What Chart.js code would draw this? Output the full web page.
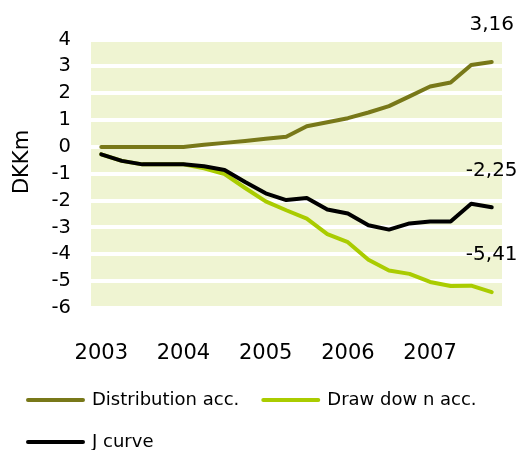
<!DOCTYPE html>
<html><head><meta charset="utf-8">
<script src="https://cdn.jsdelivr.net/npm/chart.js@4.4.0/dist/chart.umd.min.js"></script>
<style>html,body{margin:0;padding:0;background:#fff;}#wrap{width:522px;height:450px;position:relative;}</style>
</head><body><div id="wrap"><canvas id="c" width="522" height="450"></canvas></div>
<script>
const categories = ['2003 Q1','2003 Q2','2003 Q3','2003 Q4','2004 Q1','2004 Q2','2004 Q3','2004 Q4',
  '2005 Q1','2005 Q2','2005 Q3','2005 Q4','2006 Q1','2006 Q2','2006 Q3','2006 Q4',
  '2007 Q1','2007 Q2','2007 Q3','2007 Q4'];
const distribution = [0,0,0,0,0,0.08,0.15,0.22,0.30,0.38,0.77,0.92,1.07,1.28,1.52,1.88,2.25,2.40,3.05,3.16];
const drawdown = [-0.28,-0.52,-0.65,-0.65,-0.65,-0.80,-1.01,-1.53,-2.03,-2.36,-2.67,-3.25,-3.55,-4.20,-4.60,-4.73,-5.03,-5.18,-5.17,-5.41];
const jcurve = [-0.28,-0.52,-0.65,-0.65,-0.65,-0.72,-0.86,-1.31,-1.73,-1.98,-1.90,-2.33,-2.48,-2.92,-3.08,-2.85,-2.78,-2.78,-2.12,-2.25];
const yTickValues = [4,3,2,1,0,-1,-2,-3,-4,-5,-6];
const seriesNames = ['Distribution acc.','Draw dow n acc.','J curve'];
const seriesColors = ['#787819','#AACC00','#000000'];

const FONT = 'DejaVu Sans';

const bgPlugin = {
  id: 'bg',
  beforeDraw(chart) {
    const {ctx, chartArea: a} = chart;
    ctx.save();
    ctx.fillStyle = '#EFF4D2';
    ctx.fillRect(a.left, a.top, a.right - a.left, a.bottom - a.top);
    ctx.restore();
  }
};
const yTitlePlugin = {
  id: 'ytitle',
  afterDraw(chart) {
    const ctx = chart.ctx;
    ctx.save();
    ctx.translate(22.5, 162);
    ctx.rotate(-Math.PI / 2);
    ctx.font = '21px "' + FONT + '"';
    ctx.fillStyle = '#000';
    ctx.textAlign = 'center';
    ctx.textBaseline = 'middle';
    ctx.fillText('DKKm', 0, 0);
    ctx.restore();
  }
};
const endLabelPlugin = {
  id: 'endlabels',
  afterDatasetsDraw(chart) {
    const ctx = chart.ctx;
    ctx.save();
    ctx.font = '20px "' + FONT + '"';
    ctx.fillStyle = '#000';
    ctx.textAlign = 'center';
    ctx.textBaseline = 'middle';
    chart.data.datasets.forEach((ds, i) => {
      const meta = chart.getDatasetMeta(i);
      const last = meta.data[meta.data.length - 1];
      const v = ds.data[ds.data.length - 1];
      ctx.fillText(v.toFixed(2).replace('.', ','), last.x, last.y - 37);
    });
    ctx.restore();
  }
};

const mk = (label, data, color, order) => ({
  label, data, borderColor: color, backgroundColor: color, order,
  borderWidth: 4, pointRadius: 0, tension: 0,
  borderJoinStyle: 'round', borderCapStyle: 'round', fill: false
});

new Chart(document.getElementById('c'), {
  type: 'line',
  data: {
    labels: categories,
    datasets: [
      mk(seriesNames[0], distribution, seriesColors[0], 1),
      mk(seriesNames[1], drawdown, seriesColors[1], 2),
      mk(seriesNames[2], jcurve, seriesColors[2], 0)
    ]
  },
  options: {
    responsive: false,
    devicePixelRatio: 1,
    animation: false,
    layout: { padding: { left: 4, right: 20, top: 39.5, bottom: -11 } },
    plugins: {
      tooltip: { enabled: false },
      legend: {
        position: 'bottom',
        align: 'start',
        labels: {
          boxWidth: 55, boxHeight: 0, padding: 24,
          color: '#000',
          font: { family: FONT, size: 18 },
          sort: (a, b) => a.datasetIndex - b.datasetIndex
        }
      }
    },
    scales: {
      x: {
        type: 'category',
        offset: true,
        grid: { display: false },
        border: { display: false },
        afterFit(s) { s.height = 59; },
        ticks: {
          autoSkip: false, maxRotation: 0, padding: 25, color: '#000',
          font: { family: FONT, size: 21 },
          callback(v, i) { const c = categories[i]; return c.endsWith('Q1') ? c.slice(0, 4) : ''; }
        }
      },
      y: {
        min: -6, max: 4,
        afterFit(s) { s.width = 87; },
        afterBuildTicks(s) { s.ticks = yTickValues.map(v => ({ value: v })); },
        grid: { color: '#FFFFFF', lineWidth: 4, drawTicks: false },
        border: { display: false },
        ticks: {
          padding: 20, color: '#000',
          font: { family: FONT, size: 19.5 },
          callback(v) { return String(v); }
        }
      }
    }
  },
  plugins: [bgPlugin, yTitlePlugin, endLabelPlugin]
});
</script>
</body></html>
